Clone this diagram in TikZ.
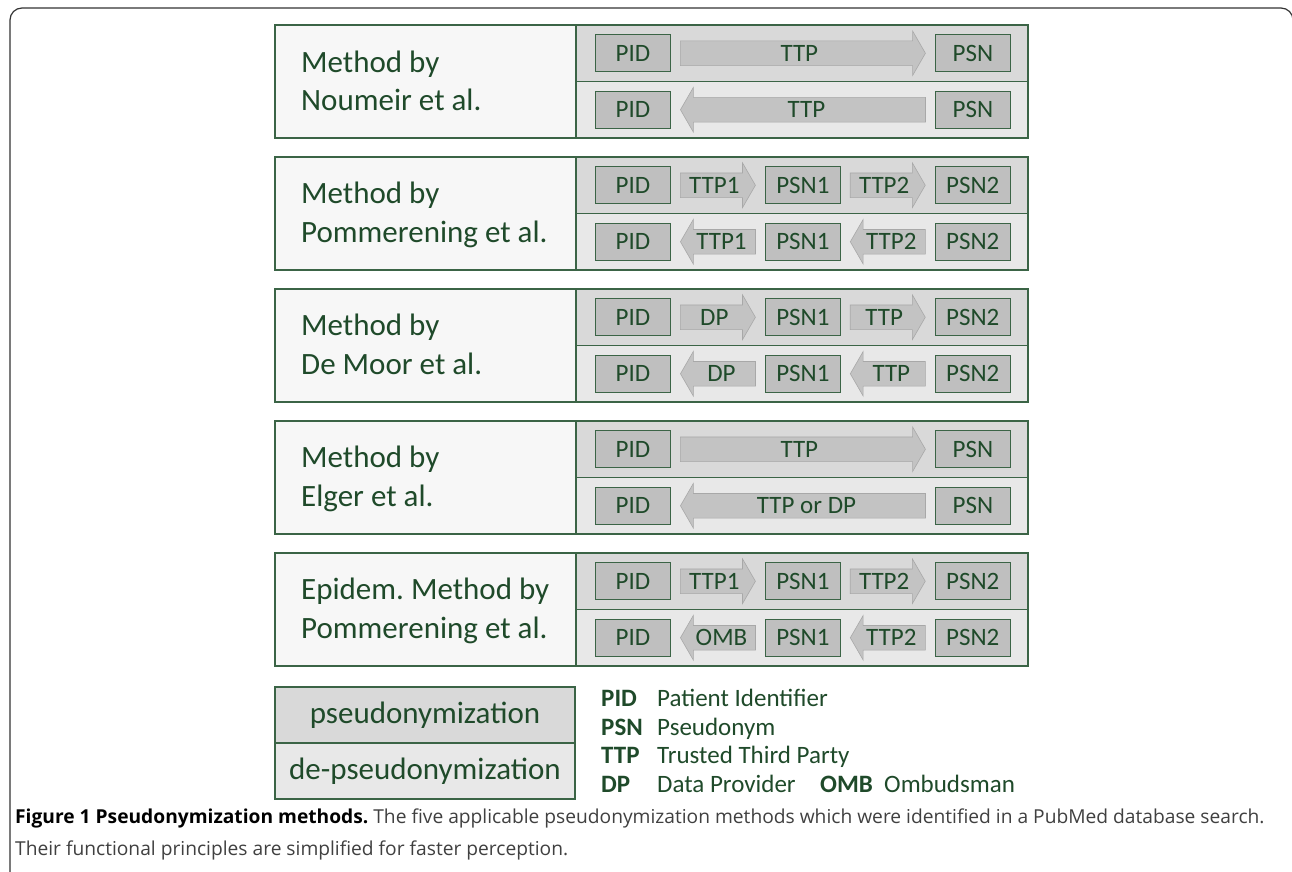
\documentclass[tikz,border=0pt]{standalone}
\usepackage{fontspec}
\setmainfont{Carlito}
\newfontfamily\capfont{Open Sans}
\usetikzlibrary{positioning,shapes.arrows}
\definecolor{txtgreen}{HTML}{1F4A2A}
\definecolor{linegreen}{HTML}{3B6446}
\definecolor{boxgray}{HTML}{BFBFBF}
\definecolor{arrowgray}{HTML}{C3C3C3}
\definecolor{arrowedge}{HTML}{A8A8A8}
\definecolor{pseudofill}{HTML}{D9D9D9}
\definecolor{depseudofill}{HTML}{E8E8E8}
\definecolor{labelfill}{HTML}{F7F7F7}
\frenchspacing

\begin{document}
\begin{tikzpicture}[x=1pt,y=-1pt,node distance=9pt,
  method/.style={draw=linegreen,line width=1.3pt,fill=labelfill,minimum width=301pt,minimum height=113pt,inner sep=0pt},
  methtext/.style={anchor=base west,inner sep=0pt,align=left,text=txtgreen,font=\fontsize{31}{39}\selectfont},
  pseudo/.style={draw=linegreen,line width=1.3pt,fill=pseudofill,minimum width=452pt,minimum height=56.5pt,inner sep=0pt},
  depseudo/.style={pseudo,fill=depseudofill},
  idbox/.style={draw=linegreen,line width=1.2pt,fill=boxgray,minimum width=75pt,minimum height=37pt,inner sep=0pt,
    text=txtgreen,font=\fontsize{25}{30}\selectfont},
  rarrow/.style={single arrow,draw=arrowedge,line width=0.6pt,fill=arrowgray,single arrow head extend=10pt,
    single arrow tip angle=120,minimum height=75pt,text height=19pt,text depth=3pt,inner ysep=1pt,inner xsep=0pt,
    text=txtgreen,font=\fontsize{25}{30}\selectfont},
  larrow/.style={rarrow,shape border rotate=180},
  legend/.style={anchor=base west,inner sep=0pt,text=txtgreen,font=\fontsize{25}{30}\selectfont},
  legbox/.style={draw=linegreen,line width=1.3pt,minimum width=300pt,minimum height=56pt,inner sep=0pt,
    text=txtgreen,font=\fontsize{31}{39}\selectfont}]
\useasboundingbox (0,0) rectangle (1292,872);
\fill[white] (0,0) rectangle (1292,872);
\begin{scope}
\clip (0,0) rectangle (1292,872);
\draw[black!80,line width=1.2pt,rounded corners=12pt] (10,900) -- (10,8) -- (1293,8) -- (1293,900);
\end{scope}

% Noumeir
\node[method] (m1) at (425.5,81.5) {};
\node[methtext] (t1) at (301,111) {Method by\\Noumeir et al.};
\node[pseudo] (r1a) at (802,53.25) {};
\node[depseudo] (r1b) at (802,109.75) {};
\node[idbox] (pid1a) at (633,53.25) {PID};
\node[rarrow,minimum height=245pt] (ttp1a) [right=of pid1a] {TTP};
\node[idbox] (psn1a) [right=of ttp1a] {PSN};
\node[idbox] (pid1b) at (633,109.75) {PID};
\node[larrow,minimum height=245pt] (ttp1b) [right=of pid1b] {TTP};
\node[idbox] (psn1b) [right=of ttp1b] {PSN};

% Pommerening
\node[method] (m2) at (425.5,213.5) {};
\node[methtext] (t2) at (301,242) {Method by\\Pommerening et al.};
\node[pseudo] (r2a) at (802,185.25) {};
\node[depseudo] (r2b) at (802,241.75) {};
\node[idbox] (pid2a) at (633,185.25) {PID};
\node[rarrow] (ttpa2a) [right=of pid2a] {TTP1};
\node[idbox] (psna2a) [right=of ttpa2a] {PSN1};
\node[rarrow] (ttpb2a) [right=of psna2a] {TTP2};
\node[idbox] (psnb2a) [right=of ttpb2a] {PSN2};
\node[idbox] (pid2b) at (633,241.75) {PID};
\node[larrow] (ttpa2b) [right=of pid2b] {TTP1};
\node[idbox] (psna2b) [right=of ttpa2b] {PSN1};
\node[larrow] (ttpb2b) [right=of psna2b] {TTP2};
\node[idbox] (psnb2b) [right=of ttpb2b] {PSN2};

% De Moor
\node[method] (m3) at (425.5,345.5) {};
\node[methtext] (t3) at (301,374) {Method by\\De Moor et al.};
\node[pseudo] (r3a) at (802,317.25) {};
\node[depseudo] (r3b) at (802,373.75) {};
\node[idbox] (pid3a) at (633,317.25) {PID};
\node[rarrow] (dp3a) [right=of pid3a] {DP};
\node[idbox] (psna3a) [right=of dp3a] {PSN1};
\node[rarrow] (ttp3a) [right=of psna3a] {TTP};
\node[idbox] (psnb3a) [right=of ttp3a] {PSN2};
\node[idbox] (pid3b) at (633,373.75) {PID};
\node[larrow] (dp3b) [right=of pid3b] {DP};
\node[idbox] (psna3b) [right=of dp3b] {PSN1};
\node[larrow] (ttp3b) [right=of psna3b] {TTP};
\node[idbox] (psnb3b) [right=of ttp3b] {PSN2};

% Elger
\node[method] (m4) at (425.5,477.5) {};
\node[methtext] (t4) at (301,506) {Method by\\Elger et al.};
\node[pseudo] (r4a) at (802,449.25) {};
\node[depseudo] (r4b) at (802,505.75) {};
\node[idbox] (pid4a) at (633,449.25) {PID};
\node[rarrow,minimum height=245pt] (ttp4a) [right=of pid4a] {TTP};
\node[idbox] (psn4a) [right=of ttp4a] {PSN};
\node[idbox] (pid4b) at (633,505.75) {PID};
\node[larrow,minimum height=245pt] (ttp4b) [right=of pid4b] {TTP or DP};
\node[idbox] (psn4b) [right=of ttp4b] {PSN};

% Epidem. Pommerening
\node[method] (m5) at (425.5,609.5) {};
\node[methtext] (t5) at (301,638) {Epidem. Method by\\Pommerening et al.};
\node[pseudo] (r5a) at (802,581.25) {};
\node[depseudo] (r5b) at (802,637.75) {};
\node[idbox] (pid5a) at (633,581.25) {PID};
\node[rarrow] (ttpa5a) [right=of pid5a] {TTP1};
\node[idbox] (psna5a) [right=of ttpa5a] {PSN1};
\node[rarrow] (ttpb5a) [right=of psna5a] {TTP2};
\node[idbox] (psnb5a) [right=of ttpb5a] {PSN2};
\node[idbox] (pid5b) at (633,637.75) {PID};
\node[larrow] (omb5b) [right=of pid5b] {OMB};
\node[idbox] (psna5b) [right=of omb5b] {PSN1};
\node[larrow] (ttpb5b) [right=of psna5b] {TTP2};
\node[idbox] (psnb5b) [right=of ttpb5b] {PSN2};

% legend
\node[legbox,fill=pseudofill] (lp) at (425,715) {pseudonymization};
\node[legbox,fill=depseudofill] (ld) at (425,771) {de-pseudonymization};
\node[legend] (kpid) at (601,706) {\textbf{PID}};
\node[legend] (tpid) at (657,706) {Patient Identifier};
\node[legend] (kpsn) at (601,735) {\textbf{PSN}};
\node[legend] (tpsn) at (657,735) {Pseudonym};
\node[legend] (kttp) at (601,763) {\textbf{TTP}};
\node[legend] (tttp) at (657,763) {Trusted Third Party};
\node[legend] (kdp) at (601,792) {\textbf{DP}};
\node[legend] (tdp) at (657,792) {Data Provider};
\node[legend] (komb) at (820,792) {\textbf{OMB}};
\node[legend] (tomb) at (884,792) {Ombudsman};

% caption
\node[anchor=base west,inner sep=0pt,align=left,text=black!75,font=\capfont\fontsize{19.2}{32}\selectfont] (cap) at (15,855)
  {\textcolor{black}{\textbf{Figure 1 Pseudonymization methods.}} The five applicable pseudonymization methods which were identified in a PubMed database search.\\
   Their functional principles are simplified for faster perception.};
\end{tikzpicture}
\end{document}
